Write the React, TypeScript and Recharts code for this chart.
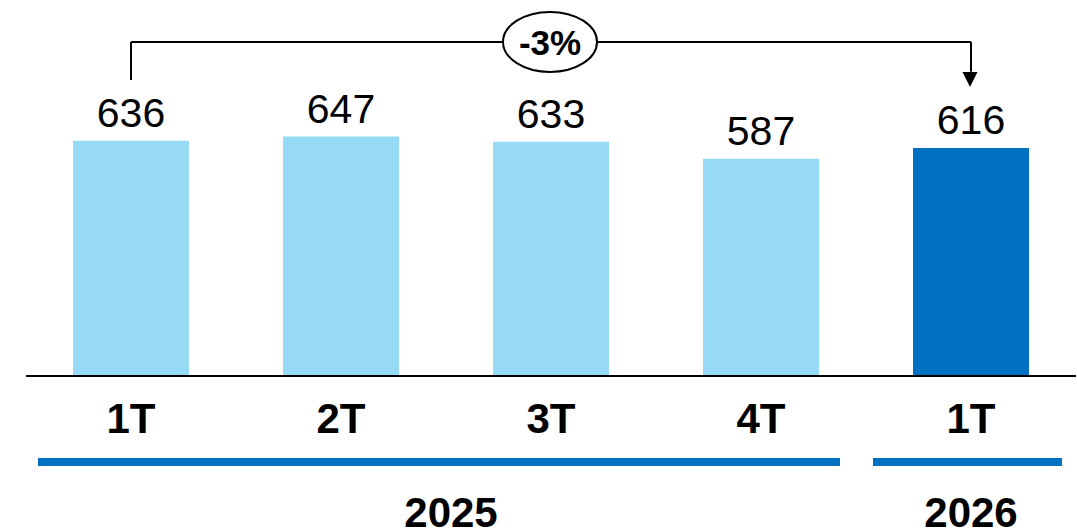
import { BarChart, Bar, XAxis, YAxis, Cell, LabelList, ReferenceLine, ReferenceDot } from "recharts";

const quarters = ["1T", "2T", "3T", "4T", "1T"];
const years = ["2025", "2025", "2025", "2025", "2026"];
const values = [636, 647, 633, 587, 616];
const yearGroups = ["2025", "2026"];
const changeLabel = "-3%";

const W = 1077;
const H = 531;
const LEFT = 26;
const RIGHT = 1;
const BAND = (W - LEFT - RIGHT) / quarters.length;
const FONT = "'Liberation Sans', Arial, sans-serif";
const LIGHT = "#97DAF6";
const DARK = "#0070C0";

// bracket height in value units
const BRACKET_Y = 903;

const rows = quarters.map((q, i) => ({ key: `${q} ${years[i]}`, quarter: q, year: years[i], value: values[i] }));
const firstKey = rows[0].key;
const lastKey = rows[rows.length - 1].key;
const midKey = rows[Math.floor(rows.length / 2)].key;

// small per-group tweaks for the underline
const groupInset = [
  { l: 12, r: 26, dx: 5 },
  { l: 7, r: 14, dx: 0 },
];

function GroupMark(props: any, year: string, gi: number) {
  const count = years.filter((y) => y === year).length;
  const start = props.cx - BAND / 2;
  const end = start + count * BAND;
  const ins = groupInset[gi];
  const x1 = start + ins.l;
  const x2 = end - ins.r;
  return (
    <g>
      <line x1={x1} x2={x2} y1={props.cy + 86} y2={props.cy + 86} stroke={DARK} strokeWidth={8} />
      <text x={(start + end) / 2 + ins.dx} y={props.cy + 151} textAnchor="middle" fontFamily={FONT} fontWeight="bold" fontSize={42} fill="#000">
        {year}
      </text>
    </g>
  );
}

export default function App() {
  return (
    <div style={{ position: "absolute", left: 0, top: 0, background: "#fff" }}>
      <BarChart width={W} height={H} data={rows} margin={{ top: 6, right: RIGHT, bottom: 0, left: LEFT }}>
        <XAxis
          dataKey="key"
          height={155}
          tickFormatter={(k: string) => k.split(" ")[0]}
          axisLine={{ stroke: "#000", strokeWidth: 2 }}
          tickLine={false}
          tickSize={0}
          tickMargin={27}
          interval={0}
          tick={{ fontSize: 42, fontWeight: "bold", fill: "#000", fontFamily: FONT }}
        />
        <YAxis hide domain={[0, 1000]} />
        <Bar dataKey="value" barSize={116} isAnimationActive={false}>
          {rows.map((r, i) => (
            <Cell key={r.key} fill={i === rows.length - 1 ? DARK : LIGHT} />
          ))}
          <LabelList dataKey="value" position="top" offset={14} style={{ fontSize: 41, fill: "#000", fontFamily: FONT }} />
        </Bar>
        <ReferenceLine segment={[{ x: firstKey, y: 800 }, { x: firstKey, y: BRACKET_Y }]} stroke="#000" strokeWidth={2} />
        <ReferenceLine segment={[{ x: firstKey, y: BRACKET_Y }, { x: lastKey, y: BRACKET_Y }]} stroke="#000" strokeWidth={2} />
        <ReferenceLine segment={[{ x: lastKey, y: BRACKET_Y }, { x: lastKey, y: 822 }]} stroke="#000" strokeWidth={2} />
        <ReferenceDot
          x={lastKey}
          y={781}
          ifOverflow="visible"
          shape={(p: any) => <path d={`M${p.cx - 1 - 7.5},${p.cy - 15} L${p.cx - 1 + 7.5},${p.cy - 15} L${p.cx - 1},${p.cy} Z`} fill="#000" />}
        />
        <ReferenceDot
          x={midKey}
          y={BRACKET_Y}
          ifOverflow="visible"
          shape={(p: any) => (
            <g>
              <ellipse cx={p.cx - 1} cy={p.cy} rx={47} ry={30} fill="#fff" stroke="#000" strokeWidth={2} />
              <text x={p.cx - 1} y={p.cy + 13} textAnchor="middle" fontFamily={FONT} fontWeight="bold" fontSize={35} fill="#000">
                {changeLabel}
              </text>
            </g>
          )}
        />
        {yearGroups.map((y, gi) => (
          <ReferenceDot
            key={y}
            x={rows.find((r) => r.year === y)!.key}
            y={0}
            ifOverflow="visible"
            shape={(p: any) => GroupMark(p, y, gi)}
          />
        ))}
      </BarChart>
    </div>
  );
}
